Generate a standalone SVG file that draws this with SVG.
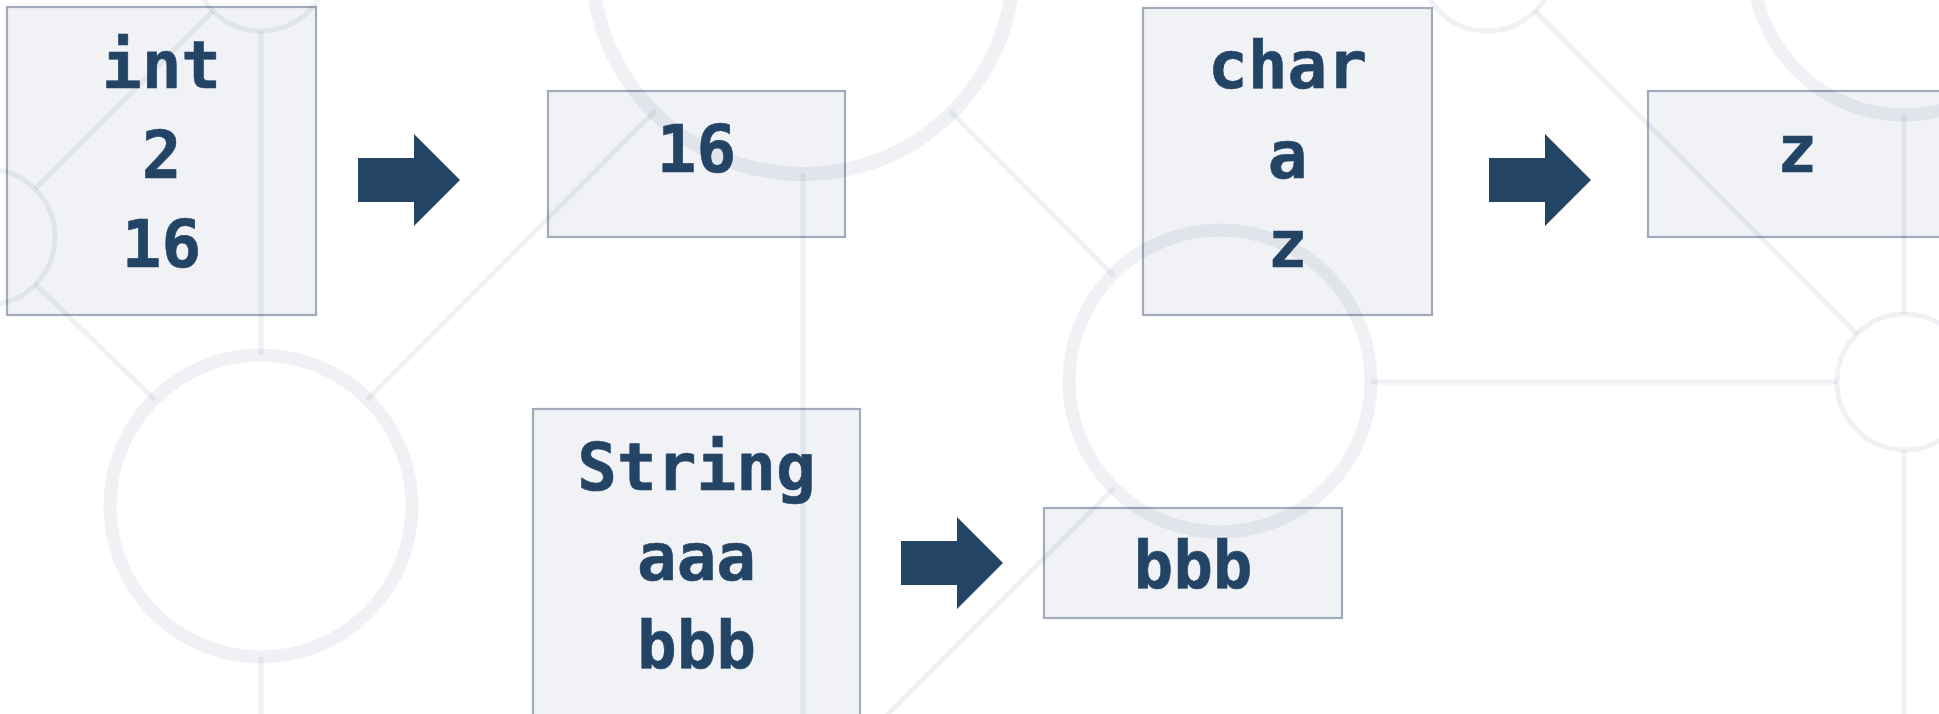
<svg xmlns="http://www.w3.org/2000/svg" width="1939" height="714" viewBox="0 0 1939 714">
  <style>
    .bg { fill: #ffffff; }
    .ring { fill: none; stroke: #24466a; stroke-opacity: 0.075; }
    .ring-s { stroke-width: 5; }
    .ring-l { stroke-width: 13; }
    .link { stroke: #24466a; stroke-opacity: 0.075; stroke-width: 5; fill: none; }
    .box { fill: #f0f2f6; stroke: #a2aabc; stroke-width: 2.2; mix-blend-mode: multiply; }
    .label { font-family: "DejaVu Sans Mono", "Liberation Mono", monospace; font-weight: bold; font-size: 66px; fill: #244466; stroke: #244466; stroke-width: 0.6; stroke-linejoin: round; text-anchor: middle; }
    .arrow { fill: #244466; }
  </style>

  <rect class="bg" x="0" y="0" width="1939" height="714"/>

  <!-- decorative network backdrop -->
  <g id="backdrop">
    <circle class="ring ring-s" cx="261" cy="-37" r="68"/>
    <circle class="ring ring-s" cx="-13" cy="237" r="68"/>
    <circle class="ring ring-l" cx="261" cy="506" r="151"/>
    <circle class="ring" cx="803" cy="-37" r="211" stroke-width="14"/>
    <circle class="ring ring-l" cx="1220" cy="381" r="151"/>
    <circle class="ring ring-s" cx="1487" cy="-37" r="68"/>
    <circle class="ring ring-l" cx="1904" cy="-36" r="151"/>
    <circle class="ring ring-s" cx="1905" cy="382" r="68"/>

    <line class="link" x1="35" y1="189" x2="213" y2="11"/>
    <line class="link" x1="35" y1="284" x2="155" y2="400"/>
    <line class="link" x1="261" y1="31" x2="261" y2="355"/>
    <line class="link" x1="261" y1="657" x2="261" y2="714"/>
    <line class="link" x1="367" y1="400" x2="655" y2="111"/>
    <line class="link" x1="803" y1="174" x2="803" y2="714"/>
    <line class="link" x1="950" y1="111" x2="1114" y2="276"/>
    <line class="link" x1="1114" y1="488" x2="887" y2="715"/>
    <line class="link" x1="1371" y1="382" x2="1837" y2="382"/>
    <line class="link" x1="1535" y1="11" x2="1857" y2="334"/>
    <line class="link" x1="1904" y1="115" x2="1904" y2="314"/>
    <line class="link" x1="1904" y1="450" x2="1904" y2="714"/>
  </g>

  <!-- value boxes -->
  <g id="node-int">
    <rect class="box" x="7" y="7" width="309" height="308"/>
    <text class="label" x="161.5" y="88">int</text>
    <text class="label" x="161.5" y="178">2</text>
    <text class="label" x="161.5" y="267">16</text>
  </g>
  <g id="node-int-result">
    <rect class="box" x="548" y="91" width="297" height="146"/>
    <text class="label" x="696.5" y="172">16</text>
  </g>
  <g id="node-char">
    <rect class="box" x="1143" y="8" width="289" height="307"/>
    <text class="label" x="1287.5" y="88">char</text>
    <text class="label" x="1287.5" y="178">a</text>
    <text class="label" x="1287.5" y="267">z</text>
  </g>
  <g id="node-char-result">
    <rect class="box" x="1648" y="91" width="298" height="146"/>
    <text class="label" x="1797" y="172">z</text>
  </g>
  <g id="node-string">
    <rect class="box" x="533" y="409" width="327" height="308"/>
    <text class="label" x="696.5" y="490">String</text>
    <text class="label" x="696.5" y="580">aaa</text>
    <text class="label" x="696.5" y="668">bbb</text>
  </g>
  <g id="node-string-result">
    <rect class="box" x="1044" y="508" width="298" height="110"/>
    <text class="label" x="1193" y="588">bbb</text>
  </g>

  <!-- block arrows between boxes -->
  <g id="connectors">
    <path class="arrow" d="M358,158 H414 V134 L460,180 L414,226 V202 H358 Z"/>
    <path class="arrow" d="M1489,158 H1545 V134 L1591,180 L1545,226 V202 H1489 Z"/>
    <path class="arrow" d="M901,541 H957 V517 L1003,563 L957,609 V585 H901 Z"/>
  </g>
</svg>
